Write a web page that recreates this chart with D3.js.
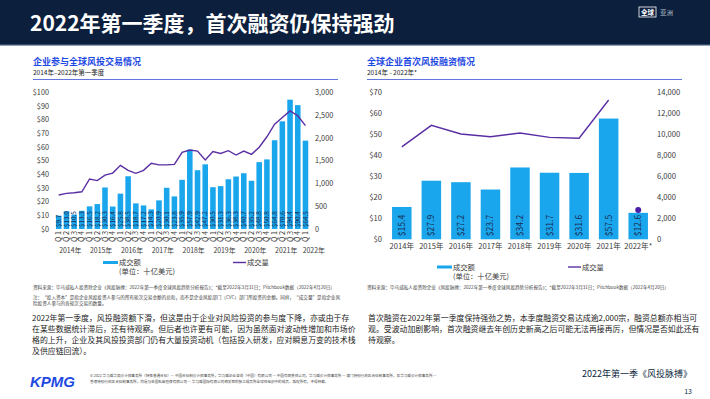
<!DOCTYPE html>
<html>
<head>
<meta charset="utf-8">
<script src="https://cdnjs.cloudflare.com/ajax/libs/d3/7.8.5/d3.min.js"></script>
<style>
  body { margin: 0; background: #fff; }
  svg { display: block; font-family: "Noto Sans CJK SC", "Noto Sans", sans-serif; }
</style>
</head>
<body>
<div id="chart"></div>
<script>
var width = 710;
var height = 399;

// left chart: quarterly corporate-participation VC deals
var periods = [
  "2014 Q1","2014 Q2","2014 Q3","2014 Q4",
  "2015 Q1","2015 Q2","2015 Q3","2015 Q4",
  "2016 Q1","2016 Q2","2016 Q3","2016 Q4",
  "2017 Q1","2017 Q2","2017 Q3","2017 Q4",
  "2018 Q1","2018 Q2","2018 Q3","2018 Q4",
  "2019 Q1","2019 Q2","2019 Q3","2019 Q4",
  "2020 Q1","2020 Q2","2020 Q3","2020 Q4",
  "2021 Q1","2021 Q2","2021 Q3","2021 Q4",
  "2022 Q1"
];
var dealValue = [9.7, 13.0, 10.5, 13.3, 16.5, 18.2, 30.3, 16.4, 25.8, 38.5, 18.7, 17.2,
  14.3, 20.9, 30.1, 23.8, 35.9, 57.9, 42.9, 47.2, 30.5, 31.3, 36.3, 38.3,
  40.7, 35.2, 48.8, 50.8, 64.8, 78.6, 94.4, 90.4, 64.5];
var dealCount = [745, 780, 795, 815, 1095, 1060, 1180, 1225, 1395, 1285, 1220, 1285,
  1440, 1405, 1405, 1415, 1680, 1730, 1705, 1510, 1695, 1655, 1715, 1620,
  1705, 1635, 1790, 2020, 2295, 2440, 2585, 2480, 2265];
var leftValueTicks = [0, 10, 20, 30, 40, 50, 60, 70, 80, 90, 100];
var leftCountTicks = [0, 500, 1000, 1500, 2000, 2500, 3000];

// right chart: yearly first-time financing
var years = ["2014年", "2015年", "2016年", "2017年", "2018年", "2019年", "2020年", "2021年", "2022年*"];
var firstValue = [15.4, 27.9, 27.2, 23.7, 34.2, 31.7, 31.6, 57.5, 12.6];
var firstCount = [8800, 10850, 10030, 9770, 10120, 9710, 9620, 13270, 2800];
var rightValueTicks = [0, 10, 20, 30, 40, 50, 60, 70];
var rightCountTicks = [0, 2000, 4000, 6000, 8000, 10000, 12000, 14000];

var barColor = '#1aa6ec';
var lineColor = '#5a2ea3';
var blue = '#1e49e2';
var navy = '#0c1f3d';
var tickColor = '#3a3a3a';

var svg = d3.select('#chart')
  .append('svg')
  .attr('width', width)
  .attr('height', height);

// header
svg.append('rect').attr('x', 0).attr('y', 0).attr('width', width).attr('height', 45).attr('fill', navy);
svg.append('rect').attr('x', 0).attr('y', 44).attr('width', width).attr('height', 1.5).attr('fill', '#2f4b6e');
svg.append('text')
  .attr('x', 30).attr('y', 31)
  .attr('fill', '#fff')
  .attr('font-size', 21).attr('font-weight', 'bold')
  .text('2022年第一季度，首次融资仍保持强劲');
svg.append('rect').attr('x', 639).attr('y', 7).attr('width', 17).attr('height', 10)
  .attr('fill', 'none').attr('stroke', '#fff').attr('stroke-width', 0.8);
svg.append('text').attr('x', 647.5).attr('y', 14.5).attr('text-anchor', 'middle')
  .attr('fill', '#fff').attr('font-size', 6.5).attr('font-weight', 'bold').text('全球');
svg.append('text').attr('x', 660).attr('y', 14.5)
  .attr('fill', '#b8c0cc').attr('font-size', 6.5).text('亚洲');

// chart headings
function heading(x, x2, title, sub) {
  svg.append('text').attr('x', x).attr('y', 65).attr('fill', blue)
    .attr('font-size', 9).attr('font-weight', 'bold').text(title);
  svg.append('text').attr('x', x).attr('y', 74.5).attr('fill', '#222')
    .attr('font-size', 6.5).text(sub);
  svg.append('line').attr('x1', x).attr('x2', x2).attr('y1', 79.5).attr('y2', 79.5)
    .attr('stroke', '#3d52d5').attr('stroke-width', 0.8);
}
heading(33, 338, '企业参与全球风投交易情况', '2014年–2022年第一季度');
heading(367, 682, '全球企业首次风投融资情况', '2014年 - 2022年*');

// ---------- left chart ----------
var idx = d3.range(periods.length);
var xL = d3.scaleBand().domain(idx).range([53.8, 310.4]).padding(0.28);
var yL = d3.scaleLinear().domain([0, 100]).range([229, 92]);
var yL2 = d3.scaleLinear().domain([0, 3000]).range([229, 92]);

var gL = svg.append('g');

gL.selectAll('.barL')
  .data(idx)
  .enter().append('rect')
  .attr('class', 'barL')
  .attr('x', function(i) { return xL(i); })
  .attr('y', function(i) { return yL(dealValue[i]); })
  .attr('width', xL.bandwidth())
  .attr('height', function(i) { return yL(0) - yL(dealValue[i]); })
  .attr('fill', barColor);

gL.selectAll('.lblL')
  .data(idx)
  .enter().append('text')
  .attr('class', 'lblL')
  .attr('transform', function(i) {
    return 'translate(' + (xL(i) + xL.bandwidth() / 2) + ',' + (yL(0) - 2) + ') rotate(-90)';
  })
  .attr('dy', '0.35em')
  .attr('font-size', 6.3)
  .attr('fill', '#1b2b52')
  .text(function(i) { return '$' + d3.format('.1f')(dealValue[i]); });

var lineL = d3.line()
  .x(function(i) { return xL(i) + xL.bandwidth() / 2; })
  .y(function(i) { return yL2(dealCount[i]); });
gL.append('path').datum(idx)
  .attr('d', lineL)
  .attr('fill', 'none')
  .attr('stroke', lineColor)
  .attr('stroke-width', 1.4);

var axL = gL.append('g').attr('transform', 'translate(49,0)')
  .call(d3.axisLeft(yL).tickValues(leftValueTicks).tickFormat(function(d) { return '$' + d; })
    .tickSize(0).tickPadding(0));
var axL2 = gL.append('g').attr('transform', 'translate(315,0)')
  .call(d3.axisRight(yL2).tickValues(leftCountTicks).tickFormat(d3.format(','))
    .tickSize(0).tickPadding(0));
var axLx = gL.append('g').attr('transform', 'translate(0,231)')
  .call(d3.axisBottom(xL).tickFormat(function(i) { return 'Q ' + periods[i].slice(-1); })
    .tickSize(0).tickPadding(0));
axLx.selectAll('text')
  .attr('transform', 'rotate(-90)')
  .attr('text-anchor', 'end')
  .attr('x', 0).attr('y', 0).attr('dy', '0.35em');

[axL, axL2, axLx].forEach(function(a) {
  a.select('.domain').remove();
  a.selectAll('text').attr('font-size', 7.3).attr('fill', tickColor)
    .attr('font-family', '"Noto Sans CJK SC", "Noto Sans", sans-serif');
});

// year labels under quarters; the lone 2022 quarter gets a left-aligned label
var yearNames = d3.groups(idx, function(i) { return periods[i].slice(0, 4); });
gL.selectAll('.yearL')
  .data(yearNames)
  .enter().append('text')
  .attr('class', 'yearL')
  .attr('x', function(g) {
    if (g[1].length < 4) return xL(g[1][0]);
    return d3.mean(g[1], function(i) { return xL(i) + xL.bandwidth() / 2; });
  })
  .attr('y', 253)
  .attr('text-anchor', function(g) { return g[1].length < 4 ? 'start' : 'middle'; })
  .attr('font-size', 6.9)
  .attr('fill', tickColor)
  .text(function(g) { return g[0] + '年'; });

// ---------- right chart ----------
var xR = d3.scaleBand().domain(years).range([382, 658]).padding(0.34);
var yR = d3.scaleLinear().domain([0, 70]).range([239.3, 92.3]);
var yR2 = d3.scaleLinear().domain([0, 14000]).range([239.3, 92.3]);

var gR = svg.append('g');

gR.selectAll('.barR')
  .data(years)
  .enter().append('rect')
  .attr('class', 'barR')
  .attr('x', function(d) { return xR(d); })
  .attr('y', function(d, i) { return yR(firstValue[i]); })
  .attr('width', xR.bandwidth())
  .attr('height', function(d, i) { return yR(0) - yR(firstValue[i]); })
  .attr('fill', barColor);

gR.selectAll('.lblR')
  .data(years)
  .enter().append('text')
  .attr('class', 'lblR')
  .attr('transform', function(d) {
    return 'translate(' + (xR(d) + xR.bandwidth() / 2) + ',' + (yR(0) - 3) + ') rotate(-90)';
  })
  .attr('dy', '0.35em')
  .attr('font-size', 8.6)
  .attr('fill', '#1b2b52')
  .text(function(d, i) { return '$' + d3.format('.1f')(firstValue[i]); });

// line covers full years; the partial 2022 count is shown as a dot
var fullYears = years.slice(0, years.length - 1);
var lineR = d3.line()
  .x(function(d) { return xR(d) + xR.bandwidth() / 2; })
  .y(function(d, i) { return yR2(firstCount[i]); });
gR.append('path').datum(fullYears)
  .attr('d', lineR)
  .attr('fill', 'none')
  .attr('stroke', lineColor)
  .attr('stroke-width', 1.4);
var lastYear = years[years.length - 1];
gR.append('circle')
  .attr('cx', xR(lastYear) + xR.bandwidth() / 2)
  .attr('cy', yR2(firstCount[firstCount.length - 1]))
  .attr('r', 3)
  .attr('fill', '#4a1fa6');

var axR = gR.append('g').attr('transform', 'translate(382,0)')
  .call(d3.axisLeft(yR).tickValues(rightValueTicks).tickFormat(function(d) { return '$' + d; })
    .tickSize(0).tickPadding(0));
var axR2 = gR.append('g').attr('transform', 'translate(657,0)')
  .call(d3.axisRight(yR2).tickValues(rightCountTicks).tickFormat(d3.format(','))
    .tickSize(0).tickPadding(0));
var axRx = gR.append('g').attr('transform', 'translate(0,242)')
  .call(d3.axisBottom(xR).tickSize(0).tickPadding(0));
axRx.selectAll('text').attr('dy', '0.9em');

[axR, axR2, axRx].forEach(function(a) {
  a.select('.domain').remove();
  a.selectAll('text').attr('font-size', 7.6).attr('fill', tickColor)
    .attr('font-family', '"Noto Sans CJK SC", "Noto Sans", sans-serif');
});

// legends
function legend(x1, x2, y) {
  svg.append('rect').attr('x', x1).attr('y', y - 1.5).attr('width', 15).attr('height', 3).attr('fill', barColor);
  svg.append('text').attr('x', x1 + 16).attr('y', y + 2.5).attr('font-size', 7.3).attr('fill', tickColor).text('成交额');
  svg.append('text').attr('x', x1 + 16).attr('y', y + 11.5).attr('font-size', 7.3).attr('fill', tickColor).text('(单位：十亿美元)');
  svg.append('line').attr('x1', x2).attr('x2', x2 + 13).attr('y1', y).attr('y2', y)
    .attr('stroke', lineColor).attr('stroke-width', 1.4);
  svg.append('text').attr('x', x2 + 14).attr('y', y + 2.5).attr('font-size', 7.3).attr('fill', tickColor).text('成交量');
}
legend(103, 233, 262.5);
legend(437, 568, 267);

// sources and notes
var small = '#444';
function smallText(x, y, s, size) {
  svg.append('text').attr('x', x).attr('y', y).attr('font-size', size || 4.6).attr('fill', small).text(s);
}
smallText(33, 288.5, '资料来源：毕马威私人投资除企业《风投脉搏：2022年第一季度全球风投趋势分析报告》；*截至2022年3月31日；Pitchbook数据（2022年4月20日）');
smallText(33, 299, '注：“投入资本”是指企业风投投资人参与的所有轮次交易金额的总和，而不是企业风投部门（CVC）部门所投资的金额。同样，“成交量”是指企业风');
smallText(33, 305, '险投资人参与的各轮次交易的数量。');
smallText(367, 288.5, '资料来源：毕马威私人投资除企业《风投脉搏：2022年第一季度全球风投趋势分析报告》；*截至2022年3月31日；Pitchbook数据（2022年4月20日）');

// body text
var leftBody = [
  '2022年第一季度，风投融资额下滑，但这是由于企业对风险投资的参与度下降，亦或由于存',
  '在某些数据统计滞后，还有待观察。但后者也许更有可能，因为虽然面对波动性增加和市场价',
  '格的上升，企业及其风投投资部门仍有大量投资动机（包括投入研发，应对瞬息万变的技术栈',
  '及供应链回流）。'
];
var rightBody = [
  '首次融资在2022年第一季度保持强劲之势，本季度融资交易达成逾2,000宗，融资总额亦相当可',
  '观。受波动加剧影响，首次融资继去年创历史新高之后可能无法再接再厉，但情况是否如此还有',
  '待观察。'
];
svg.selectAll('.bodyL').data(leftBody).enter().append('text')
  .attr('class', 'bodyL')
  .attr('x', 32).attr('y', function(d, i) { return 321 + i * 11; })
  .attr('font-size', 7.9).attr('fill', '#222').text(function(d) { return d; });
svg.selectAll('.bodyR').data(rightBody).enter().append('text')
  .attr('class', 'bodyR')
  .attr('x', 368).attr('y', function(d, i) { return 321 + i * 11; })
  .attr('font-size', 7.9).attr('fill', '#222').text(function(d) { return d; });

// footer
svg.append('text').attr('x', 30).attr('y', 387)
  .attr('font-size', 15).attr('font-weight', 'bold').attr('font-style', 'italic')
  .attr('fill', blue).attr('font-family', '"Liberation Sans", Arial, sans-serif')
  .text('KPMG');
smallText(90, 377, '© 2022 毕马威华振会计师事务所（特殊普通合伙）— 中国合伙制会计师事务所，毕马威企业咨询（中国）有限公司 — 中国有限责任公司，毕马威会计师事务所 — 澳门特别行政区合伙制事务所，及毕马威会计师事务所 —', 3.6);
smallText(90, 382.5, '香港特别行政区合伙制事务所，均是与英国私营担保有限公司 — 毕马威国际有限公司相关联的独立成员所全球性组织中的成员。版权所有，不得转载。', 3.6);
svg.append('text').attr('x', 692).attr('y', 377).attr('text-anchor', 'end')
  .attr('font-size', 9).attr('fill', navy).text('2022年第一季《风投脉搏》');
svg.append('text').attr('x', 692).attr('y', 394).attr('text-anchor', 'end')
  .attr('font-size', 7).attr('fill', navy).text('13');
</script>
</body>
</html>
